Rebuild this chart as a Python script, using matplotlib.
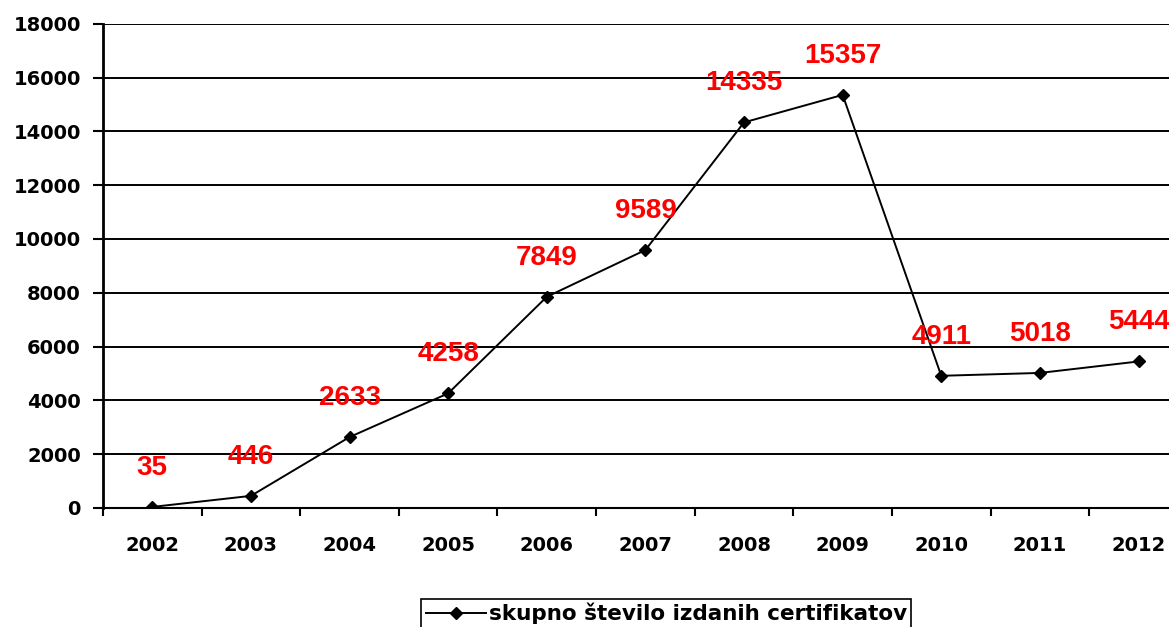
import matplotlib
import matplotlib.pyplot as plt
from matplotlib.ticker import FixedLocator

matplotlib.use("Agg")

plt.rcParams["font.family"] = ["DejaVu Sans"]

years = ["2002", "2003", "2004", "2005", "2006", "2007", "2008", "2009", "2010", "2011", "2012"]
certificates = [35, 446, 2633, 4258, 7849, 9589, 14335, 15357, 4911, 5018, 5444]
series_label = "skupno število izdanih certifikatov"
y_ticks = list(range(0, 18001, 2000))

fig = plt.figure(figsize=(11.69, 6.27), dpi=100)
ax = fig.add_axes([0.0881, 0.190, 0.928, 0.772])

x = list(range(len(years)))
ax.plot(x, certificates, color="black", linewidth=1.4, marker="D", markersize=6.5,
        label=series_label, zorder=3)

# red value labels above each point
for xi, val in zip(x, certificates):
    ax.annotate(str(val), (xi, val), xytext=(0, 39), textcoords="offset pixels",
                ha="center", va="center", color="red", fontsize=20, fontweight="bold",
                family=["Liberation Sans", "DejaVu Sans"], annotation_clip=False)

ax.set_xlim(-0.5, len(years) - 0.5)
ax.set_ylim(0, 18000)
ax.set_yticks(y_ticks)
ax.set_yticklabels([str(t) for t in y_ticks], fontsize=14, fontweight="bold")
ax.yaxis.grid(True, color="black", linewidth=1.4)
ax.set_axisbelow(True)

ax.set_xticks(x)
ax.set_xticklabels(years, fontsize=14, fontweight="bold")
ax.xaxis.set_minor_locator(FixedLocator([i + 0.5 for i in range(-1, len(years))]))
ax.tick_params(axis="x", which="major", length=0, pad=20)
ax.tick_params(axis="x", which="minor", length=6, width=1.5, direction="out")
ax.tick_params(axis="y", length=7, width=1.5, pad=9)

ax.spines["top"].set_visible(False)
ax.spines["right"].set_visible(False)
ax.spines["left"].set_linewidth(2)
ax.spines["bottom"].set_linewidth(1.5)

leg = fig.legend(loc="upper center", bbox_to_anchor=(0.570, 0.0625), fancybox=False,
                 edgecolor="black", framealpha=1, prop={"size": 15.5, "weight": "bold"},
                 handlelength=2.8, borderpad=0.2, handletextpad=0.15)
leg.get_frame().set_linewidth(1.2)

fig.savefig("out.png", dpi=100)
